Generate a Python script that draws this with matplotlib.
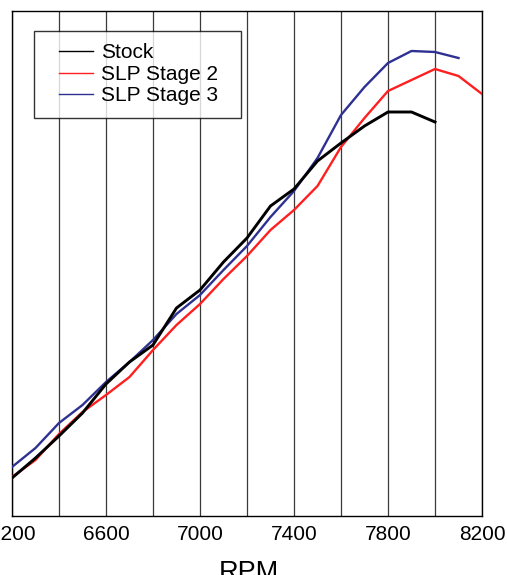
import matplotlib
matplotlib.use("Agg")
import matplotlib.pyplot as plt
from matplotlib.legend_handler import HandlerLine2D

plt.rcParams["font.family"] = ["Liberation Sans", "DejaVu Sans"]

# dyno curves, arbitrary vertical units (no y scale on the original)
rpm_stock = list(range(6200, 8001, 100))
rpm_stage2 = list(range(6200, 8201, 100))
rpm_stage3 = list(range(6200, 8101, 100))

stock = [38, 58, 80, 103, 132, 154, 171, 208, 226, 254, 278, 310,
         327, 355, 373, 390, 404, 404, 394]
stage2 = [39, 56, 82, 104, 121, 139, 166, 191, 212, 237, 260, 286,
          306, 330, 369, 398, 425, 436, 447, 440, 422]
stage3 = [49, 68, 93, 111, 134, 154, 176, 202, 221, 246, 270, 299,
          325, 358, 401, 429, 453, 465, 464, 458]

xticks = list(range(6200, 8201, 400))
grid_x = list(range(6200, 8201, 200))

fig = plt.figure(figsize=(5.07, 5.75), dpi=100)
ax = fig.add_axes([12 / 507, 59 / 575, 470 / 507, 505 / 575])

ax.plot(rpm_stock, stock, color="black", lw=2.1, label="Stock", zorder=4)
ax.plot(rpm_stage2, stage2, color="#ff1f1f", lw=1.7, label="SLP Stage 2", zorder=3)
ax.plot(rpm_stage3, stage3, color="#2e3192", lw=1.7, label="SLP Stage 3", zorder=3)

ax.set_xlim(6200, 8200)
ax.set_ylim(0, 505)
ax.set_xticks(xticks)
ax.set_xticks(grid_x, minor=True)
ax.set_yticks([])
ax.tick_params(axis="x", which="both", length=0, pad=6.5, labelsize=15)
ax.grid(True, which="both", axis="x", color="#3a3a3a", lw=0.9)
for s in ax.spines.values():
    s.set_color("black")
    s.set_linewidth(1.0)

# axis title sits partly below the figure edge, as in the original
fig.text(249 / 507, 1 - 560 / 575, "RPM", ha="center", va="top", fontsize=19.5)

leg = ax.legend(
    loc="upper left",
    bbox_to_anchor=(34 / 507, 1 - 115 / 575, 207 / 507, 84 / 575),
    bbox_transform=fig.transFigure,
    mode="expand",
    fontsize=15,
    frameon=True,
    fancybox=False,
    borderpad=0.6,
    borderaxespad=0,
    handlelength=2.24,
    handletextpad=0.38,
    labelspacing=0.11,
    handler_map={plt.Line2D: HandlerLine2D(xpad=0.6)},
)
leg.get_frame().set_edgecolor("black")
leg.get_frame().set_linewidth(1.0)
for h in leg.get_lines():
    h.set_linewidth(1.0)

fig.savefig("out.png", dpi=100)
